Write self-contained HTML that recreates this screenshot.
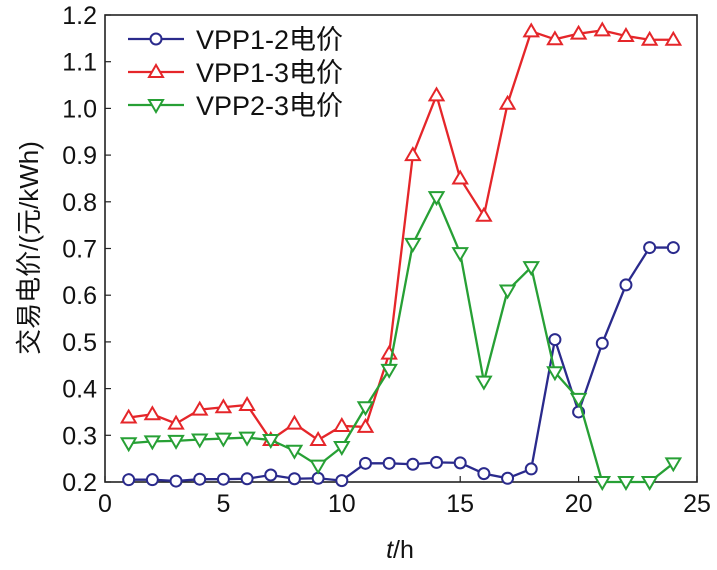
<!DOCTYPE html>
<html><head><meta charset="utf-8"><style>
body{margin:0;background:#fff;}
svg{display:block;font-family:"Liberation Sans","Noto Sans CJK SC",sans-serif;}
</style></head><body>
<svg id="c" width="717" height="570"></svg>
<script>
const hours=[1,2,3,4,5,6,7,8,9,10,11,12,13,14,15,16,17,18,19,20,21,22,23,24];
const vpp12=[0.205,0.205,0.202,0.206,0.206,0.207,0.215,0.207,0.208,0.203,0.24,0.24,0.238,0.242,0.241,0.218,0.208,0.228,0.505,0.35,0.497,0.622,0.702,0.702];
const vpp13=[0.338,0.345,0.325,0.355,0.36,0.365,0.29,0.325,0.29,0.32,0.318,0.475,0.9,1.028,0.85,0.77,1.01,1.165,1.148,1.16,1.167,1.155,1.147,1.147];
const vpp23=[0.283,0.287,0.288,0.291,0.293,0.295,0.29,0.267,0.235,0.275,0.36,0.44,0.71,0.81,0.69,0.415,0.61,0.66,0.435,0.378,0.2,0.2,0.2,0.24];
const xTicks=[0,5,10,15,20,25];
const yTicks=[0.2,0.3,0.4,0.5,0.6,0.7,0.8,0.9,1.0,1.1,1.2];
const L=105,R=697,T=15,B=482;
const xs=v=>L+(v-0)/25*(R-L);
const ys=v=>B-(v-0.2)/1.0*(B-T);
const svg=document.getElementById('c');
const NS='http://www.w3.org/2000/svg';
function mk(t,a,p){const e=document.createElementNS(NS,t);for(const k in a)e.setAttribute(k,a[k]);(p||svg).appendChild(e);return e;}
let e=mk('rect',{x:L,y:T,width:R-L,height:B-T,fill:'none',stroke:'#222','stroke-width':1.6});


xTicks.forEach(v=>{
  const t=mk('line',{x1:xs(v),x2:xs(v),y1:B,y2:B-6,stroke:'#222','stroke-width':1.2});
  
  
  const l=mk('text',{x:xs(v),y:B+30,'text-anchor':'middle','font-size':25,fill:'#111'});
  l.textContent=v;
  
  
});
yTicks.forEach(v=>{
  const t=mk('line',{x1:L,x2:L+6,y1:ys(v),y2:ys(v),stroke:'#222','stroke-width':1.2});
  
  
  const l=mk('text',{x:L-8,y:ys(v)+9,'text-anchor':'end','font-size':25,fill:'#111'});
  l.textContent=v.toFixed(1);
  
  
});
function marker(g,type,x,y,col){
  if(type==='o')return mk('circle',{cx:x,cy:y,r:5.5,fill:'#fff',stroke:col,'stroke-width':2},g);
  if(type==='^')return mk('polygon',{points:`${x},${y-7} ${x-7},${y+5} ${x+7},${y+5}`,fill:'#fff',stroke:col,'stroke-width':2},g);
  return mk('polygon',{points:`${x},${y+7} ${x-7},${y-5} ${x+7},${y-5}`,fill:'#fff',stroke:col,'stroke-width':2},g);
}
const series=[[vpp12,'#2a2a8c','o','series-vpp1-2'],[vpp13,'#e5262a','^','series-vpp1-3'],[vpp23,'#27a035','v','series-vpp2-3']];
series.forEach(([d,col,m,name])=>{
  const g=mk('g',{});
  
  
  mk('polyline',{points:d.map((v,i)=>xs(hours[i])+','+ys(v)).join(' '),fill:'none',stroke:col,'stroke-width':2.3},g);
  d.forEach((v,i)=>{const p=marker(g,m,xs(hours[i]),ys(v),col);
    
    });
});
const names=['VPP1-2电价','VPP1-3电价','VPP2-3电价'];
series.forEach(([d,col,m],i)=>{
  const y=39+i*33;
  const g=mk('g',{});
  
  
  mk('line',{x1:128,x2:184,y1:y,y2:y,stroke:col,'stroke-width':2.3},g);
  marker(g,m,156,y,col);
  const t=mk('text',{x:196,y:y+10,'font-size':27,fill:'#111'},g);
  t.textContent=names[i];
});
const xl=mk('text',{x:400,y:558,'text-anchor':'middle','font-size':25,fill:'#111'});
xl.innerHTML='<tspan font-style="italic">t</tspan>/h';


const yl=mk('text',{x:0,y:0,'text-anchor':'middle','font-size':26,fill:'#111',transform:'translate(38,248) rotate(-90)'});
yl.textContent='交易电价/(元/kWh)';


</script>
</body></html>
